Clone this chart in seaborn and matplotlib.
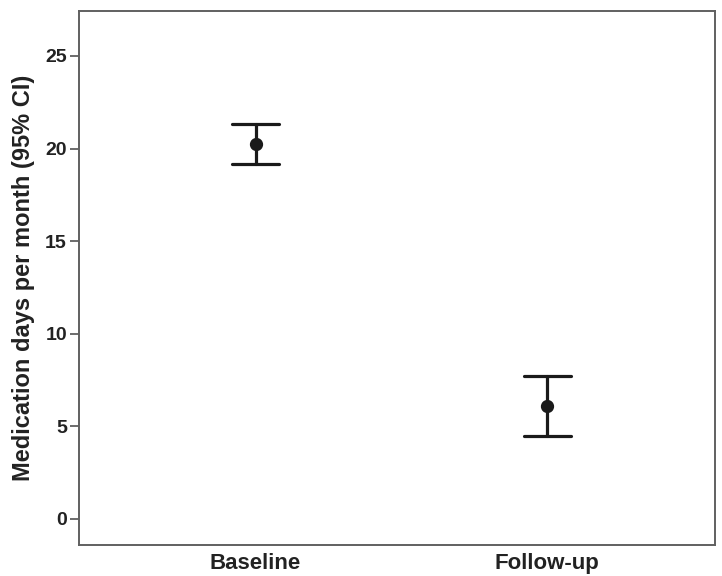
import pandas as pd
import matplotlib.pyplot as plt
import seaborn as sns

# values
periods = ["Baseline", "Follow-up"]
mean_days = [20.25, 6.1]
ci_low = [19.15, 4.5]
ci_high = [21.35, 7.7]

# long table: low / mean / high per period; median of the three is the mean
rows = []
for p, lo, m, hi in zip(periods, ci_low, mean_days, ci_high):
    for v in (lo, m, hi):
        rows.append({"period": p, "days": v})
df = pd.DataFrame(rows)

sns.set_style("white")
plt.rcParams['font.family'] = ['Liberation Sans', 'DejaVu Sans']
plt.rcParams['font.weight'] = 'bold'

fig = plt.figure(figsize=(7.22, 5.76), dpi=100)
ax = fig.add_axes([0.109, 0.054, 0.881, 0.927])

sns.pointplot(data=df, x="period", y="days", order=periods,
              estimator="median", errorbar=lambda v: (v.min(), v.max()),
              color="#1a1a1a", linestyle="none", capsize=0.16,
              err_kws={"linewidth": 2.3}, markersize=7.5, ax=ax)

ax.set_xlim(-0.606, 1.574)
ax.set_ylim(-1.4, 27.43)
ax.set_yticks([0, 5, 10, 15, 20, 25])
ax.set_xlabel("")
ax.set_ylabel("Medication days per month (95% CI)", fontsize=17,
              fontweight="bold", color="#222222")
ax.yaxis.set_label_coords(-0.069, 0.5)

for s in ax.spines.values():
    s.set_visible(True)
    s.set_color("#606060")
    s.set_linewidth(1.4)

ax.tick_params(axis="y", left=True, length=6.5, width=1.3, color="#606060",
               labelsize=14, labelcolor="#222222", pad=2)
ax.tick_params(axis="x", bottom=False, labelsize=16, labelcolor="#222222", pad=2.5)
for lab in ax.get_xticklabels() + ax.get_yticklabels():
    lab.set_fontweight("bold")

fig.savefig("out.png", dpi=100)
